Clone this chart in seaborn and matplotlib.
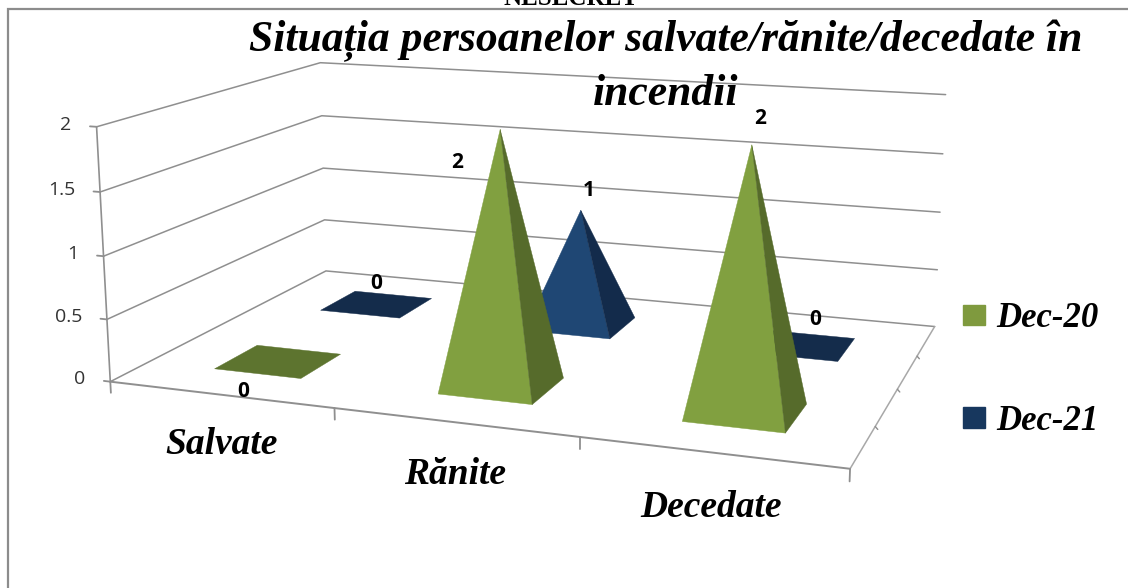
import numpy as np
import pandas as pd
import matplotlib
matplotlib.use('Agg')
import matplotlib.pyplot as plt
import seaborn as sns
from matplotlib.patches import Patch
from mpl_toolkits.mplot3d.art3d import Poly3DCollection

categorii = ['Salvate', 'Rănite', 'Decedate']
serii = ['Dec-20', 'Dec-21']
dec20 = [0, 2, 2]
dec21 = [0, 1, 0]
z_ticks = [0, 0.5, 1, 1.5, 2]
z_labels = ['0', '0.5', '1', '1.5', '2']
titlu = 'Situația persoanelor salvate/rănite/decedate în\nincendii'

df = pd.DataFrame({'categorie': categorii, 'Dec-20': dec20, 'Dec-21': dec21})

sns.set_theme(style='white')
plt.rcParams['font.family'] = ['Open Sans', 'DejaVu Sans']
cursiv = dict(family='Liberation Serif', style='italic', weight='bold')

verde, albastru = sns.color_palette(['#81a040', '#1f4774'])
culori = {
    'Dec-20': dict(fata=verde, lateral='#566b2b', plat='#5d742f', y=0.25),
    'Dec-21': dict(fata=albastru, lateral='#132b4b', plat='#142c4b', y=0.75),
}
hx, hy = 0.198, 0.094
gri = '#8f8f8f'

fig = plt.figure(figsize=(11.28, 5.88), dpi=100, facecolor='white')
lado = 866.15
ax = fig.add_axes([(530.91 - lado / 2) / 1128, (588 - 244.8 - lado / 2) / 588, lado / 1128, lado / 588],
                  projection='3d', computed_zorder=False)
ax.set_xticks([])
ax.set_yticks([])
ax.set_zticks([])
ax.set_xlim(0, 3)
ax.set_ylim(0, 1)
ax.set_zlim(0, 2)
ax.set_box_aspect((2.883, 1.8746, 1))
ax.view_init(12.93, -70.05, 0.035)
ax.set_proj_type('persp', focal_length=0.4058)
ax.set_axis_off()

# pereti si grila
for z in z_ticks:
    ax.plot([0, 0, 3], [0, 1, 1], [z, z, z], color=gri, lw=1.1, zorder=1, clip_on=False)
    ax.plot([-0.03, 0], [0, 0], [z, z], color=gri, lw=1.3, zorder=1, clip_on=False)
    ax.text(-0.115, 0, z, z_labels[z_ticks.index(z)], ha='right', va='center', fontsize=14, color='#333333', zorder=6)
ax.plot([0, 0], [0, 0], [0, 2], color=gri, lw=1.2, zorder=1, clip_on=False)
ax.plot([0, 3], [0, 0], [0, 0], color=gri, lw=1.4, zorder=1, clip_on=False)
ax.plot([3, 3], [0, 1], [0, 0], color='#a8a8a8', lw=1.1, zorder=1, clip_on=False)
for x in range(4):
    ax.plot([x, x], [0, 0], [0, -0.09], color=gri, lw=1.3, zorder=1, clip_on=False)
for y in [0.25, 0.5, 0.75]:
    ax.plot([3, 3.01], [y, y], [0, -0.02], color=gri, lw=1, zorder=1, clip_on=False)

# piramide: seria din spate prima
for ordine, serie in enumerate(['Dec-21', 'Dec-20']):
    st = culori[serie]
    for i, val in enumerate(df[serie]):
        cx, cy = i + 0.5, st['y']
        a = (cx - hx, cy - hy, 0)
        b = (cx + hx, cy - hy, 0)
        c = (cx + hx, cy + hy, 0)
        d = (cx - hx, cy + hy, 0)
        varf = (cx, cy, val)
        if val == 0:
            fete, col = [[a, b, c, d]], [st['plat']]
        else:
            fete, col = [[a, b, varf], [b, c, varf]], [st['fata'], st['lateral']]
        for k, (f, cul) in enumerate(zip(fete, col)):
            p = Poly3DCollection([f], facecolors=cul, edgecolors=cul, linewidths=0.3,
                                 zorder=2 + ordine + k * 0.1)
            p.set_clip_on(False)
            ax.add_collection3d(p)

# etichete de date
et_x = [0.33, 1.32, 2.53, 0.5, 1.54, 2.56]
et_y = [0.25, 0.25, 0.25, 0.75, 0.75, 0.75]
et_z = [-0.29, 1.72, 2.19, 0.19, 1.17, 0.23]
et_val = dec20 + dec21
for x, y, z, v in zip(et_x, et_y, et_z, et_val):
    ax.text(x, y, z, str(v), ha='center', va='center', fontsize=15, fontweight='bold', color='black', zorder=7)

for i, cat in enumerate(categorii):
    ax.text(i + 0.5, 0, -0.4, cat, ha='center', va='center', fontsize=27, color='black', zorder=7, **cursiv)

fig.text(666 / 1128, 1 - 67 / 588, titlu, ha='center', va='center', fontsize=31.4, linespacing=1.37,
         color='black', **cursiv)
fig.text(571 / 1128, 1 - 5 / 588, 'NESECRET', ha='center', va='baseline', fontsize=18, fontweight='bold',
         family='Liberation Serif', color='black')

handles = [Patch(color='#7f9a3e', label=serii[0]), Patch(color='#17375e', label=serii[1])]
fig.legend(handles=handles, loc='center left', bbox_to_anchor=(932 / 1128, 1 - 370 / 588), frameon=False,
           prop=dict(family='Liberation Serif', style='italic', weight='bold', size=25), labelcolor='black',
           labelspacing=2.0, handlelength=0.63, handleheight=0.55, handletextpad=0.32)

fig.add_artist(plt.Rectangle((8 / 1128, -0.1), 1.2, 1.1 - 9 / 588, transform=fig.transFigure,
                             fill=False, ec='#8c8c8c', lw=1.6, zorder=5))

fig.savefig('out.png', dpi=100)
